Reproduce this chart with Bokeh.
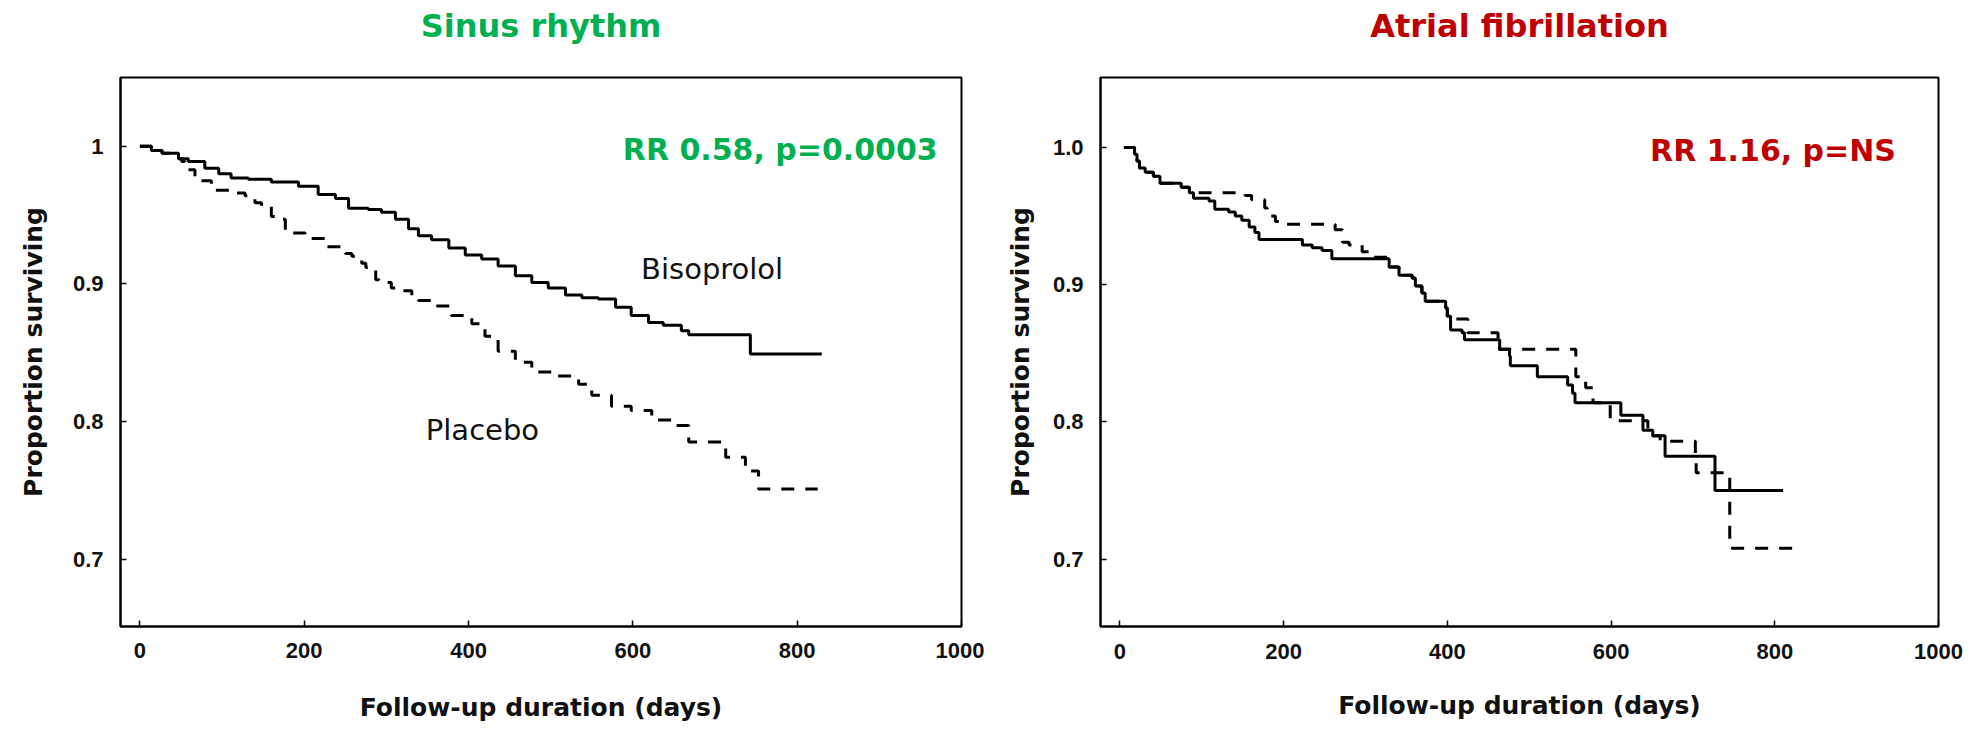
from bokeh.plotting import figure
from bokeh.layouts import row
from bokeh.models import Label, Range1d, FixedTicker, Title
from bokeh.embed import file_html
from bokeh.resources import INLINE

# ---------------- data ----------------
x_ticks = [0, 200, 400, 600, 800, 1000]
y_ticks = [0.7, 0.8, 0.9, 1.0]
sr_y_tick_labels = ["0.7", "0.8", "0.9", "1"]
af_y_tick_labels = ["0.7", "0.8", "0.9", "1.0"]

# Sinus rhythm - Bisoprolol (solid)
sr_biso_days = [0, 14, 27, 47, 59, 79, 96, 111, 132, 160, 193, 217, 238, 254, 278, 294, 311, 327,
                339, 355, 376, 396, 416, 436, 457, 477, 497, 518, 538, 558, 579, 598, 619, 637,
                659, 668, 743, 830]
sr_biso_surv = [1.000, 0.997, 0.995, 0.991, 0.989, 0.984, 0.980, 0.977, 0.976, 0.974, 0.971, 0.965,
                0.962, 0.955, 0.954, 0.952, 0.947, 0.940, 0.935, 0.932, 0.926, 0.921, 0.918, 0.913,
                0.906, 0.901, 0.897, 0.892, 0.890, 0.889, 0.883, 0.877, 0.872, 0.870, 0.866, 0.863,
                0.849, 0.849]

# Sinus rhythm - Placebo (dashed)
sr_plac_days = [0, 14, 27, 47, 51, 55, 67, 74, 87, 116, 128, 140, 148, 160, 166, 177, 185, 201, 226,
                250, 258, 270, 275, 287, 291, 306, 318, 331, 339, 355, 379, 404, 420, 436, 457, 477,
                506, 534, 550, 574, 598, 623, 652, 668, 713, 737, 741, 753, 825]
sr_plac_surv = [1.000, 0.997, 0.995, 0.991, 0.989, 0.983, 0.977, 0.975, 0.968, 0.966, 0.964, 0.959,
                0.956, 0.949, 0.947, 0.939, 0.937, 0.933, 0.927, 0.922, 0.920, 0.915, 0.912, 0.903,
                0.901, 0.897, 0.895, 0.891, 0.888, 0.884, 0.877, 0.871, 0.862, 0.851, 0.843, 0.836,
                0.833, 0.827, 0.819, 0.811, 0.808, 0.801, 0.797, 0.785, 0.774, 0.767, 0.764, 0.751,
                0.751]

# Atrial fibrillation - solid
af_solid_days = [5, 18, 21, 24, 31, 41, 49, 75, 85, 90, 109, 116, 133, 141, 149, 158, 165, 170, 223,
                 235, 247, 259, 329, 341, 357, 361, 369, 373, 398, 400, 404, 418, 421, 464, 476, 477,
                 510, 547, 553, 556, 612, 639, 651, 666, 727, 810]
af_solid_surv = [1.000, 0.995, 0.990, 0.985, 0.982, 0.979, 0.974, 0.971, 0.967, 0.963, 0.961, 0.955,
                 0.953, 0.950, 0.947, 0.942, 0.938, 0.933, 0.929, 0.927, 0.925, 0.919, 0.913, 0.907,
                 0.905, 0.899, 0.894, 0.888, 0.883, 0.877, 0.867, 0.865, 0.860, 0.853, 0.848, 0.841,
                 0.833, 0.827, 0.821, 0.814, 0.805, 0.794, 0.790, 0.775, 0.750, 0.750]

# Atrial fibrillation - dashed
af_dash_days = [5, 18, 21, 24, 31, 41, 49, 75, 85, 153, 161, 177, 180, 190, 198, 263, 272, 280, 296,
                305, 329, 341, 357, 361, 369, 373, 398, 400, 425, 462, 557, 569, 578, 599, 645, 660,
                703, 704, 745, 822]
af_dash_surv = [1.000, 0.995, 0.990, 0.985, 0.982, 0.979, 0.974, 0.971, 0.967, 0.965, 0.962, 0.956,
                0.950, 0.946, 0.944, 0.940, 0.931, 0.929, 0.924, 0.920, 0.913, 0.907, 0.905, 0.899,
                0.894, 0.888, 0.883, 0.875, 0.865, 0.853, 0.833, 0.825, 0.814, 0.801, 0.790, 0.786,
                0.777, 0.763, 0.708, 0.708]

GREEN = "#00B050"
RED = "#C00000"
FONT = "DejaVu Sans"
TICK_FONT = "Liberation Sans"


def make_panel(title, title_color, y_tick_labels, width, height, b_left, b_right, b_top, b_bottom,
               y_end, tick_standoff, label_standoff, ylabel_standoff):
    p = figure(width=width, height=height, output_backend="svg", toolbar_location=None,
               x_range=Range1d(-23.6, 1000), y_range=Range1d(0.651, y_end),
               min_border_left=b_left, min_border_right=b_right,
               min_border_top=b_top, min_border_bottom=b_bottom)
    # spacer panel between the frame and the title (pushes the title upward)
    p.add_layout(Title(text=" ", text_font=FONT, text_font_size="12px", standoff=17), "above")
    p.title.text = title
    p.title.text_color = title_color
    p.title.text_font = FONT
    p.title.text_font_size = "32px"
    p.title.text_font_style = "bold"
    p.title.align = "center"
    p.title.standoff = 0
    p.xgrid.visible = False
    p.ygrid.visible = False
    p.outline_line_color = "black"
    p.outline_line_width = 2
    p.background_fill_color = "white"
    p.border_fill_color = "white"

    p.xaxis.ticker = FixedTicker(ticks=x_ticks)
    p.yaxis.ticker = FixedTicker(ticks=y_ticks)
    p.yaxis.major_label_overrides = {t: lab for t, lab in zip(y_ticks, y_tick_labels)}
    for ax in (p.xaxis, p.yaxis):
        ax.axis_line_color = "black"
        ax.axis_line_width = 2
        ax.major_tick_in = 6
        ax.major_tick_out = 0
        ax.minor_tick_in = 0
        ax.minor_tick_out = 0
        ax.major_tick_line_width = 1.5
        ax.major_label_text_font = TICK_FONT
        ax.major_label_text_font_style = "bold"
        ax.major_label_text_font_size = "22px"
        ax.major_label_text_color = "#111111"
        ax.axis_label_text_font = FONT
        ax.axis_label_text_font_style = "bold"
        ax.axis_label_text_font_size = "25px"
        ax.axis_label_text_color = "#111111"
    p.xaxis.axis_label = "Follow-up duration (days)"
    p.yaxis.axis_label = "Proportion surviving"
    p.xaxis.major_label_standoff = tick_standoff
    p.xaxis.axis_label_standoff = label_standoff
    p.yaxis.major_label_standoff = 17
    p.yaxis.axis_label_standoff = ylabel_standoff
    return p


left = make_panel("Sinus rhythm", GREEN, sr_y_tick_labels, 984, 728, 120, 23, 76, 100, 1.050,
                  16, 32, 22)
left.step(sr_biso_days, sr_biso_surv, mode="after", line_color="black", line_width=3)
left.step(sr_plac_days, sr_plac_surv, mode="after", line_color="black", line_width=3,
          line_dash="13 11")
left.add_layout(Label(x=971, y=0.9975, text="RR 0.58, p=0.0003", text_align="right",
                      text_baseline="alphabetic", text_font=FONT, text_font_style="bold",
                      text_font_size="30px", text_color=GREEN))
left.add_layout(Label(x=610, y=0.9105, text="Bisoprolol", text_baseline="alphabetic",
                      text_font=FONT, text_font_size="29px", text_color="#111111"))
left.add_layout(Label(x=348, y=0.7935, text="Placebo", text_baseline="alphabetic",
                      text_font=FONT, text_font_size="29px", text_color="#111111"))

right = make_panel("Atrial fibrillation", RED, af_y_tick_labels, 980, 728, 116, 26, 77, 102, 1.051,
                   17, 29, 15)
right.step(af_solid_days, af_solid_surv, mode="after", line_color="black", line_width=3)
right.step(af_dash_days, af_dash_surv, mode="after", line_color="black", line_width=3,
           line_dash="13 11")
right.add_layout(Label(x=948, y=0.998, text="RR 1.16, p=NS", text_align="right",
                       text_baseline="alphabetic", text_font=FONT, text_font_style="bold",
                       text_font_size="30px", text_color=RED))

layout = row(left, right)
open("out.html", "w").write(file_html(layout, INLINE))
